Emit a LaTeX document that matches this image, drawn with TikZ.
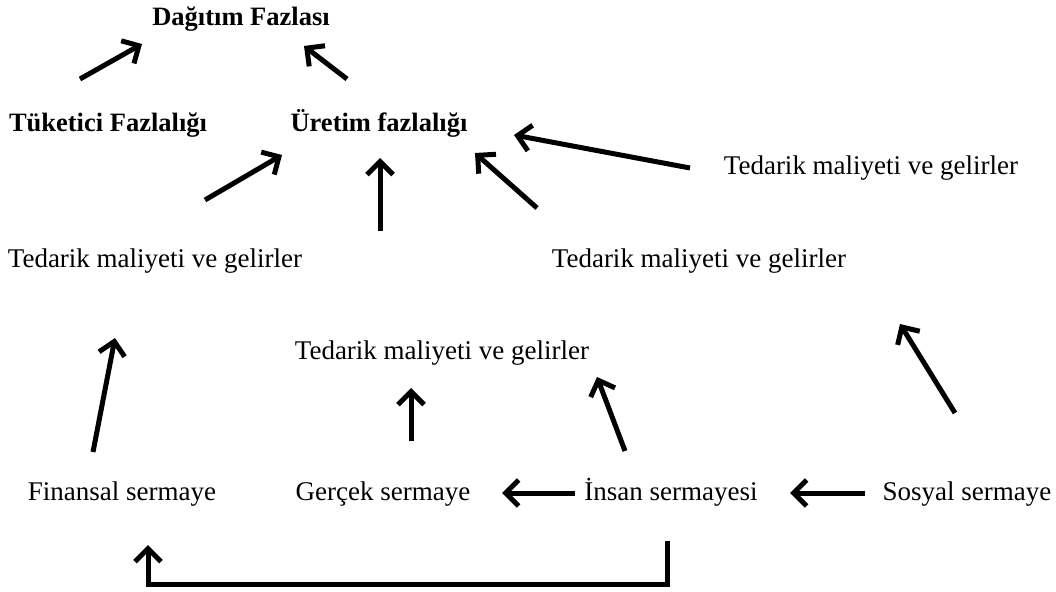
\documentclass[tikz,border=0pt]{standalone}
\usepackage{fontspec}
\setmainfont{Liberation Serif}
\usetikzlibrary{arrows.meta}
\begin{document}
\begin{tikzpicture}[x=1pt,y=-1pt,
  lbl/.style={inner sep=0pt,text height=18pt,text depth=6pt,font=\fontsize{27}{30}\selectfont},
  blbl/.style={lbl,font=\fontsize{26.5}{30}\selectfont\bfseries},
  arr/.style={line width=5pt,-{Straight Barb[length=13pt,width=26pt,line width=5pt]}}]
\useasboundingbox (0,0) rectangle (1056,591);
% text nodes
\node[blbl] (dag) at (241,20) {Dağıtım Fazlası};
\node[blbl] (tuk) at (108,125) {Tüketici Fazlalığı};
\node[blbl] (ure) at (379,125) {Üretim fazlalığı};
\node[lbl] (ted1) at (871,168) {Tedarik maliyeti ve gelirler};
\node[lbl] (ted2) at (155,261) {Tedarik maliyeti ve gelirler};
\node[lbl] (ted3) at (699,261) {Tedarik maliyeti ve gelirler};
\node[lbl] (ted4) at (442,353) {Tedarik maliyeti ve gelirler};
\node[lbl] (fin) at (122,494) {Finansal sermaye};
\node[lbl] (ger) at (383,494) {Gerçek sermaye};
\node[lbl] (ins) at (671,494) {İnsan sermayesi};
\node[lbl] (sos) at (967,494) {Sosyal sermaye};
% arrow end points
\coordinate (a1t) at (80,79);   \coordinate (a1h) at (142,44);
\coordinate (a2t) at (347,79);  \coordinate (a2h) at (304,46);
\coordinate (a3t) at (205,200); \coordinate (a3h) at (282,155);
\coordinate (a4t) at (380,231); \coordinate (a4h) at (380,158);
\coordinate (a5t) at (537,208); \coordinate (a5h) at (475,153);
\coordinate (a6t) at (690,168); \coordinate (a6h) at (514,135);
\coordinate (a7t) at (93,452);  \coordinate (a7h) at (115,338);
\coordinate (a8t) at (411,441); \coordinate (a8h) at (411,388);
\coordinate (a9t) at (625,451); \coordinate (a9h) at (597,377);
\coordinate (a10t) at (955,413); \coordinate (a10h) at (900,324);
\coordinate (a11t) at (575,493); \coordinate (a11h) at (502,493);
\coordinate (a12t) at (865,493); \coordinate (a12h) at (790,493);
\coordinate (e1) at (667,541);  \coordinate (e2) at (667,584);
\coordinate (e3) at (148,584);  \coordinate (e4) at (148,545);
% arrows
\draw[arr] (a1t) -- (a1h);
\draw[arr] (a2t) -- (a2h);
\draw[arr] (a3t) -- (a3h);
\draw[arr] (a4t) -- (a4h);
\draw[arr] (a5t) -- (a5h);
\draw[arr] (a6t) -- (a6h);
\draw[arr] (a7t) -- (a7h);
\draw[arr] (a8t) -- (a8h);
\draw[arr] (a9t) -- (a9h);
\draw[arr] (a10t) -- (a10h);
\draw[arr] (a11t) -- (a11h);
\draw[arr] (a12t) -- (a12h);
\draw[arr,line join=miter] (e1) -- (e2) -- (e3) -- (e4);
\end{tikzpicture}
\end{document}
